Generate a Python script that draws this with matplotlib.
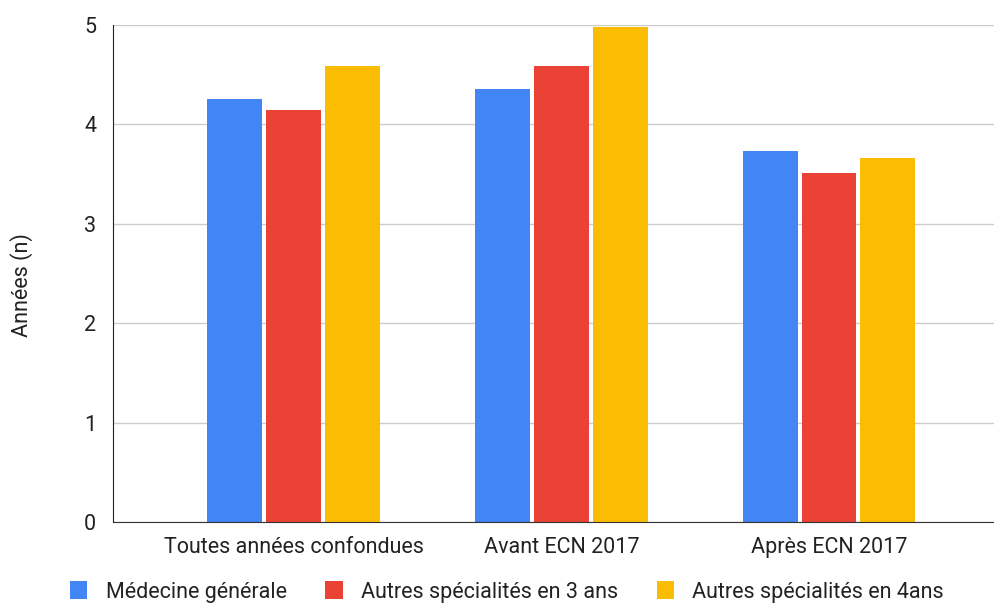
import matplotlib.pyplot as plt
import numpy as np

plt.rcParams['font.family'] = ['Roboto', 'DejaVu Sans']

# Data
categories = ['Toutes années confondues', 'Avant ECN 2017', 'Après ECN 2017']
series = ['Médecine générale', 'Autres spécialités en 3 ans', 'Autres spécialités en 4ans']
medecine_generale = [4.26, 4.36, 3.73]
autres_3ans = [4.14, 4.59, 3.51]
autres_4ans = [4.59, 4.98, 3.66]
colors = ['#4285F4', '#EA4335', '#FBBC04']

fig = plt.figure(figsize=(9.95, 6.03), dpi=100)
ax = fig.add_axes([113 / 995, 1 - 522 / 603, 1 - 113 / 995, (522 - 25) / 603])

x = np.arange(len(categories))
step = 0.22
width = 0.205
for i, (vals, name, c) in enumerate(zip([medecine_generale, autres_3ans, autres_4ans], series, colors)):
    ax.bar(x + (i - 1) * step, vals, width, color=c, label=name, zorder=3)

ax.set_ylim(0, 5)
ax.set_xlim(-0.675, 2.62)
ax.set_yticks([0, 1, 2, 3, 4, 5])
ax.set_xticks(x)
ax.set_xticklabels(categories)
ax.tick_params(axis='both', length=0, labelsize=15.5, colors='#222222')
ax.tick_params(axis='y', pad=12)
ax.tick_params(axis='x', pad=11)
ax.grid(axis='y', color='#cccccc', linewidth=1, zorder=0)
for s in ['top', 'right']:
    ax.spines[s].set_visible(False)
ax.spines['left'].set_color('#222222')
ax.spines['bottom'].set_color('#333333')
ax.spines['left'].set_zorder(4)
ax.spines['bottom'].set_zorder(4)

fig.text(22 / 995, 1 - 285 / 603, 'Années (n)', rotation=90, ha='center', va='center',
         fontsize=15.5, color='#222222')

fig.legend(loc='center', bbox_to_anchor=(507 / 995, 1 - 592 / 603), ncol=3, frameon=False,
           fontsize=15.5, handlelength=0.8, handleheight=0.85, columnspacing=1.8,
           handletextpad=0.85, labelcolor='#222222')

fig.savefig('out.png', dpi=100)
